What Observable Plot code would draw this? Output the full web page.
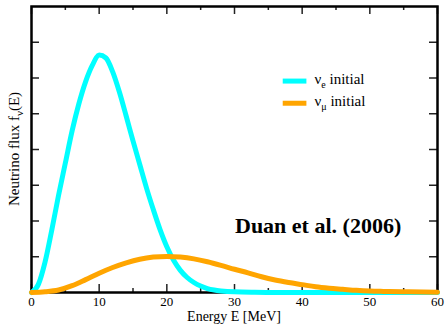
<!DOCTYPE html>
<html>
<head>
<meta charset="utf-8">
<script src="https://cdn.jsdelivr.net/npm/d3@7"></script>
<script src="https://cdn.jsdelivr.net/npm/@observablehq/plot@0.6"></script>
<style>
  html, body { margin: 0; padding: 0; background: #fff; }
  #chart svg { display: block; }
</style>
</head>
<body>
<div id="chart"></div>
<script>
// Energy grid (MeV) and fluxes (arbitrary units)
const nueEnergy = [0, 1, 2, 3, 4, 5, 6, 7, 8, 9, 10, 11, 12, 13, 14, 15, 16, 17, 18, 19, 20, 21, 22, 23, 24, 25, 26, 27, 28, 30, 33, 36, 40, 50, 60];
const nueFlux   = [0, 0.22, 0.85, 1.75, 2.72, 3.62, 4.52, 5.28, 5.9, 6.36, 6.64, 6.56, 6.17, 5.6, 4.93, 4.24, 3.58, 2.92, 2.32, 1.76, 1.28, 0.9, 0.62, 0.42, 0.28, 0.18, 0.11, 0.07, 0.045, 0.018, 0.006, 0.002, 0.0005, 0, 0];
const numuEnergy = [0, 2, 4, 6, 8, 10, 12, 14, 16, 18, 20, 22, 24, 26, 28, 30, 32, 34, 36, 38, 40, 42, 44, 46, 48, 50, 52, 55, 60];
const numuFlux   = [0, 0.02, 0.07, 0.19, 0.36, 0.54, 0.7, 0.83, 0.93, 0.99, 1.01, 0.99, 0.94, 0.86, 0.76, 0.65, 0.55, 0.44, 0.35, 0.28, 0.22, 0.16, 0.12, 0.09, 0.06, 0.04, 0.03, 0.02, 0.01];
const xMajorTicks = [0, 10, 20, 30, 40, 50, 60];
const xMinorTicks = [5, 15, 25, 35, 45, 55];
const yTicks = [1, 2, 3, 4, 5, 6, 7];
const seriesSubs = ["e", "μ"];
const seriesNames = ["initial", "initial"];
const seriesColors = ["#00ffff", "#ffa500"];

const nue = nueEnergy.map((E, i) => ({E, f: nueFlux[i]}));
const numu = numuEnergy.map((E, i) => ({E, f: numuFlux[i]}));

const W = 447, H = 324, mL = 31, mR = 10, mT = 6, mB = 32;
const innerH = H - mT - mB, innerW = W - mL - mR;
const tickStroke = "#222";
const font = "'Liberation Serif', 'Times New Roman', serif";

const plot = Plot.plot({
  width: W, height: H,
  marginLeft: mL, marginRight: mR, marginTop: mT, marginBottom: mB,
  x: {domain: [0, 60]},
  y: {domain: [0, 8]},
  style: {fontFamily: font, background: "#fff", color: "#000"},
  marks: [
    Plot.tickX(xMajorTicks, {x: d => d, insetTop: innerH - 8, stroke: tickStroke, strokeWidth: 1.5}),
    Plot.tickX(xMinorTicks, {x: d => d, insetTop: innerH - 4, stroke: tickStroke, strokeWidth: 1.5}),
    Plot.tickX(xMajorTicks, {x: d => d, insetBottom: innerH - 8, stroke: tickStroke, strokeWidth: 1.5}),
    Plot.tickX(xMinorTicks, {x: d => d, insetBottom: innerH - 4, stroke: tickStroke, strokeWidth: 1.5}),
    Plot.tickY(yTicks, {y: d => d, insetRight: innerW - 8, stroke: tickStroke, strokeWidth: 1.5}),
    Plot.tickY(yTicks, {y: d => d, insetLeft: innerW - 8, stroke: tickStroke, strokeWidth: 1.5}),
    Plot.axisX(xMajorTicks, {anchor: "bottom", tickSize: 0, tickPadding: 4, fontSize: 13, label: null}),
    Plot.axisY([], {label: null}),
    Plot.frame({stroke: "#000", strokeWidth: 2.5}),
    Plot.line(nue, {x: "E", y: "f", stroke: seriesColors[0], strokeWidth: 5, curve: "monotone-x"}),
    Plot.line(numu, {x: "E", y: "f", stroke: seriesColors[1], strokeWidth: 5, curve: "monotone-x"})
  ]
});

document.getElementById("chart").appendChild(plot);

const svg = d3.select(plot);
const xs = plot.scale("x"), ys = plot.scale("y");

// x-axis label
svg.append("text")
  .attr("x", (xs.apply(0) + xs.apply(60)) / 2).attr("y", 320.5)
  .attr("text-anchor", "middle").attr("font-family", font).attr("font-size", 14)
  .text("Energy E [MeV]");

// y-axis label with subscript nu
const yl = svg.append("text")
  .attr("transform", `translate(19,${(ys.apply(0) + ys.apply(8)) / 2}) rotate(-90)`)
  .attr("text-anchor", "middle").attr("font-family", font).attr("font-size", 15);
yl.append("tspan").text("Neutrino flux f");
yl.append("tspan").attr("font-size", 11).attr("dy", 4).text("ν");
yl.append("tspan").attr("dy", -4).text("(E)");

// legend
const legY = [5.9, 5.28];
legY.forEach((v, i) => {
  const y = ys.apply(v);
  svg.append("line")
    .attr("x1", xs.apply(37.2)).attr("x2", xs.apply(40.7))
    .attr("y1", y).attr("y2", y)
    .attr("stroke", seriesColors[i]).attr("stroke-width", 5);
  const t = svg.append("text")
    .attr("x", xs.apply(41.9)).attr("y", y + 3)
    .attr("text-anchor", "start")
    .attr("font-family", font).attr("font-size", 15);
  t.append("tspan").text("ν");
  t.append("tspan").attr("font-size", 10).attr("dy", 4).text(seriesSubs[i]);
  t.append("tspan").attr("dy", -4).text(" " + seriesNames[i]);
});

// annotation
svg.append("text")
  .attr("x", xs.apply(30.15)).attr("y", 233)
  .attr("text-anchor", "start")
  .attr("font-family", font).attr("font-size", 22).attr("font-weight", "bold")
  .text("Duan et al. (2006)");
</script>
</body>
</html>
